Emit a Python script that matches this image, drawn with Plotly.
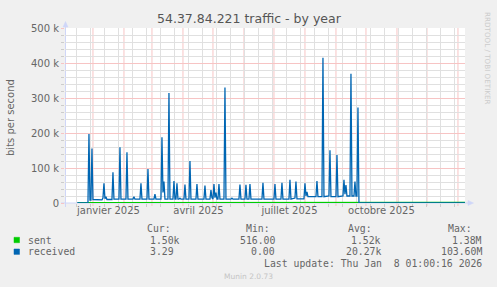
import plotly.graph_objects as go

# ---------------- data (bits per second) ----------------
x_start = "2024-12-04 01:00:16"
x_end = "2026-01-08 01:00:16"

recv_dates = [
    "2024-12-16", "2024-12-27", "2024-12-28", "2024-12-29", "2024-12-30", "2024-12-31",
    "2025-01-01", "2025-01-10", "2025-01-11", "2025-01-12", "2025-01-13", "2025-01-14",
    "2025-01-15", "2025-01-20", "2025-01-21", "2025-01-22", "2025-01-27", "2025-01-28",
    "2025-01-29", "2025-02-03", "2025-02-04", "2025-02-05", "2025-02-10", "2025-02-11",
    "2025-02-12", "2025-02-17", "2025-02-18", "2025-02-19", "2025-02-24", "2025-02-25",
    "2025-02-26", "2025-03-03", "2025-03-04", "2025-03-05", "2025-03-10", "2025-03-11",
    "2025-03-12", "2025-03-13", "2025-03-14", "2025-03-17", "2025-03-18", "2025-03-19",
    "2025-03-22", "2025-03-23", "2025-03-24", "2025-03-25", "2025-03-26", "2025-03-27",
    "2025-03-28", "2025-03-29", "2025-03-30", "2025-04-02", "2025-04-03", "2025-04-04",
    "2025-04-07", "2025-04-08", "2025-04-09", "2025-04-14", "2025-04-15", "2025-04-16",
    "2025-04-22", "2025-04-23", "2025-04-24", "2025-04-28", "2025-04-29", "2025-04-30",
    "2025-05-01", "2025-05-02", "2025-05-03", "2025-05-04", "2025-05-05", "2025-05-06",
    "2025-05-07", "2025-05-08", "2025-05-12", "2025-05-13", "2025-05-14", "2025-05-19",
    "2025-05-20", "2025-05-21", "2025-05-27", "2025-05-28", "2025-05-29", "2025-06-02",
    "2025-06-03", "2025-06-04", "2025-06-06", "2025-06-07", "2025-06-08", "2025-06-19",
    "2025-06-20", "2025-06-21", "2025-07-01", "2025-07-02", "2025-07-03", "2025-07-08",
    "2025-07-09", "2025-07-10", "2025-07-16", "2025-07-17", "2025-07-18", "2025-07-22",
    "2025-07-23", "2025-07-24", "2025-07-31", "2025-08-01", "2025-08-02", "2025-08-03",
    "2025-08-04", "2025-08-12", "2025-08-13", "2025-08-14", "2025-08-18", "2025-08-19",
    "2025-08-20", "2025-08-25", "2025-08-26", "2025-08-27", "2025-09-01", "2025-09-02",
    "2025-09-03", "2025-09-08", "2025-09-09", "2025-09-10", "2025-09-11", "2025-09-12",
    "2025-09-15", "2025-09-16", "2025-09-17", "2025-09-19", "2025-09-20", "2025-09-21",
    "2025-09-22", "2025-09-23", "2025-09-24", "2026-01-08",
]
recv_bps = [
    0, 0, 197000, 8000, 8000, 156000,
    10000, 9000, 14000, 56000, 12000, 18000,
    10000, 10000, 88000, 11000, 11000, 159000,
    11000, 11000, 145000, 11000, 11000, 18000,
    11000, 11000, 56000, 11000, 11000, 97000,
    11000, 11000, 25000, 11000, 11000, 188000,
    30000, 61000, 11000, 11000, 314000, 11000,
    11000, 63000, 11000, 11000, 56000, 11000,
    11000, 14000, 11000, 11000, 53000, 11000,
    11000, 120000, 11000, 11000, 54000, 11000,
    11000, 50000, 11000, 11000, 37000, 15000,
    11000, 54000, 15000, 30000, 11000, 11000,
    54000, 11000, 11000, 330000, 11000, 11000,
    14000, 11000, 11000, 53000, 11000, 11000,
    52000, 11000, 11000, 54000, 11000, 11000,
    58000, 11000, 11000, 54000, 11000, 11000,
    58000, 11000, 11000, 66000, 11000, 14000,
    61000, 12000, 12000, 56000, 20000, 32000,
    18000, 18000, 63000, 18000, 18000, 415000,
    18000, 20000, 151000, 18000, 18000, 137000,
    18000, 20000, 66000, 25000, 51000, 20000,
    20000, 369000, 20000, 20000, 61000, 20000,
    20000, 273000, 0, 0,
]

sent_dates = ["2024-12-17", "2025-08-02", "2025-08-03", "2026-01-08"]
sent_bps = [1300, 1300, 1900, 1900]

y_tick_vals = [0, 100000, 200000, 300000, 400000, 500000]
y_tick_text = ["0", "100 k", "200 k", "300 k", "400 k", "500 k"]
x_label_dates = ["2025-01-16 12:00", "2025-04-16 12:00", "2025-07-16 12:00", "2025-10-16 12:00"]
x_label_text = ["janvier 2025", "avril 2025", "juillet 2025", "octobre 2025"]
month_starts = ["2025-%02d-01" % m for m in range(1, 13)] + ["2026-01-01"]

legend_names = ["sent", "received"]
legend_cur = ["1.50k", "3.29"]
legend_min = ["516.00", "0.00"]
legend_avg = ["1.52k", "20.27k"]
legend_max = ["1.38M", "103.60M"]
colors = ["#00CC00", "#0066B3"]

# ---------------- layout geometry ----------------
W, H = 497, 287
L, T, PW, PH = 65, 28, 400, 175
R = W - L - PW
B = H - T - PH


def px(x):
    return (x - L) / PW


def py(y):
    return (T + PH - y) / PH


TXT = "#666666"
SANS = "DejaVu Sans"
MONO = "DejaVu Sans Mono"
GRID = "#e0e0e0"
MGRID = "#f7c4c4"
AXIS = "#CFD6F8"

fig = go.Figure()
fig.add_trace(go.Scatter(x=sent_dates, y=sent_bps, mode="lines",
                         line=dict(color=colors[0], width=1.3), name="sent"))
fig.add_trace(go.Scatter(x=recv_dates, y=recv_bps, mode="lines",
                         line=dict(color=colors[1], width=1.3), name="received"))

shapes = []
for d in month_starts:
    shapes.append(dict(type="line", xref="x", yref="paper", x0=d, x1=d,
                       y0=-3 / PH, y1=1, layer="between",
                       line=dict(color=MGRID, width=1)))
# axes with arrows
shapes.append(dict(type="line", xref="paper", yref="paper", x0=px(61), x1=px(469),
                   y0=0, y1=0, layer="between", line=dict(color=AXIS, width=1)))
shapes.append(dict(type="line", xref="paper", yref="paper", x0=px(65.5), x1=px(65.5),
                   y0=py(207), y1=py(25), layer="between", line=dict(color=AXIS, width=1)))
shapes.append(dict(type="path", xref="paper", yref="paper",
                   path="M %f,%f L %f,%f L %f,%f Z" % (px(468), py(200.5), px(473.5), py(203),
                                                       px(468), py(205.5)),
                   fillcolor=AXIS, line=dict(color=AXIS, width=0.5), layer="above"))
shapes.append(dict(type="path", xref="paper", yref="paper",
                   path="M %f,%f L %f,%f L %f,%f Z" % (px(63), py(27), px(65.5), py(21.5),
                                                       px(68), py(27)),
                   fillcolor=AXIS, line=dict(color=AXIS, width=0.5), layer="above"))
# legend colour squares
for i, c in enumerate(colors):
    yc = [240, 251.7][i]
    shapes.append(dict(type="rect", xref="paper", yref="paper",
                       x0=px(14), x1=px(19.5), y0=py(yc - 2.7), y1=py(yc + 2.7),
                       fillcolor=c, line=dict(color=c, width=0.5)))

ann = []


def text(x, y, s, size=9.8, family=MONO, color=TXT, xanchor="left", angle=0):
    ann.append(dict(xref="paper", yref="paper", x=px(x), y=py(y), text=s, showarrow=False,
                    xanchor=xanchor, yanchor="middle", textangle=angle,
                    font=dict(family=family, size=size, color=color)))


text(249, 18.5, "54.37.84.221 traffic - by year", size=12.5, family=SANS, color="#555555",
     xanchor="center")
text(11, 118, "bits per second", size=10, family=SANS, color=TXT, xanchor="center", angle=-90)
text(487, 58, "RRDTOOL / TOBI OETIKER", size=7.2, family=SANS, color="#cccccc",
     xanchor="center", angle=90)

text(145, 228, "Cur:")
text(244, 228, "Min:")
text(346, 228, "Avg:")
text(446, 228, "Max:")
for i in range(2):
    yc = [240, 251.7][i]
    text(26, yc, legend_names[i])
    text(182 if i == 0 else 176, yc, legend_cur[i], xanchor="right")
    text(277, yc, legend_min[i], xanchor="right")
    text(383, yc, legend_avg[i], xanchor="right")
    text(484, yc, legend_max[i], xanchor="right")
text(484, 263.5, "Last update: Thu Jan \u00a08 01:00:16 2026", xanchor="right")
text(248, 276.5, "Munin 2.0.73", size=7.5, family=SANS, color="#c4c4c4", xanchor="center")

fig.update_layout(
    width=W, height=H,
    margin=dict(l=L, r=R, t=T, b=B, pad=0),
    paper_bgcolor="#F0F0F0", plot_bgcolor="#FFFFFF",
    showlegend=False,
    shapes=shapes, annotations=ann,
    xaxis=dict(type="date", range=[x_start, x_end], tickmode="array",
               tickvals=x_label_dates, ticktext=x_label_text, ticks="",
               showgrid=False, zeroline=False, showline=False,
               tickfont=dict(family=SANS, size=10, color=TXT),
               minor=dict(tickmode="linear", tick0="2024-12-02", dtick=14 * 86400000,
                          showgrid=True, gridcolor=GRID, gridwidth=1,
                          ticks="outside", ticklen=3, tickcolor="#cccccc")),
    yaxis=dict(range=[0, 500000], tickmode="array", tickvals=y_tick_vals,
               ticktext=y_tick_text, showgrid=True, gridcolor=MGRID,
               gridwidth=1, zeroline=False, showline=False, ticks="outside", ticklen=3,
               tickcolor=MGRID, tickfont=dict(family=SANS, size=10, color=TXT),
               minor=dict(tickmode="linear", tick0=0, dtick=20000, showgrid=True,
                          gridcolor=GRID, gridwidth=1,
                          ticks="outside", ticklen=3, tickcolor="#cccccc")),
)

fig.write_html("out.html", config=dict(displayModeBar=False))
